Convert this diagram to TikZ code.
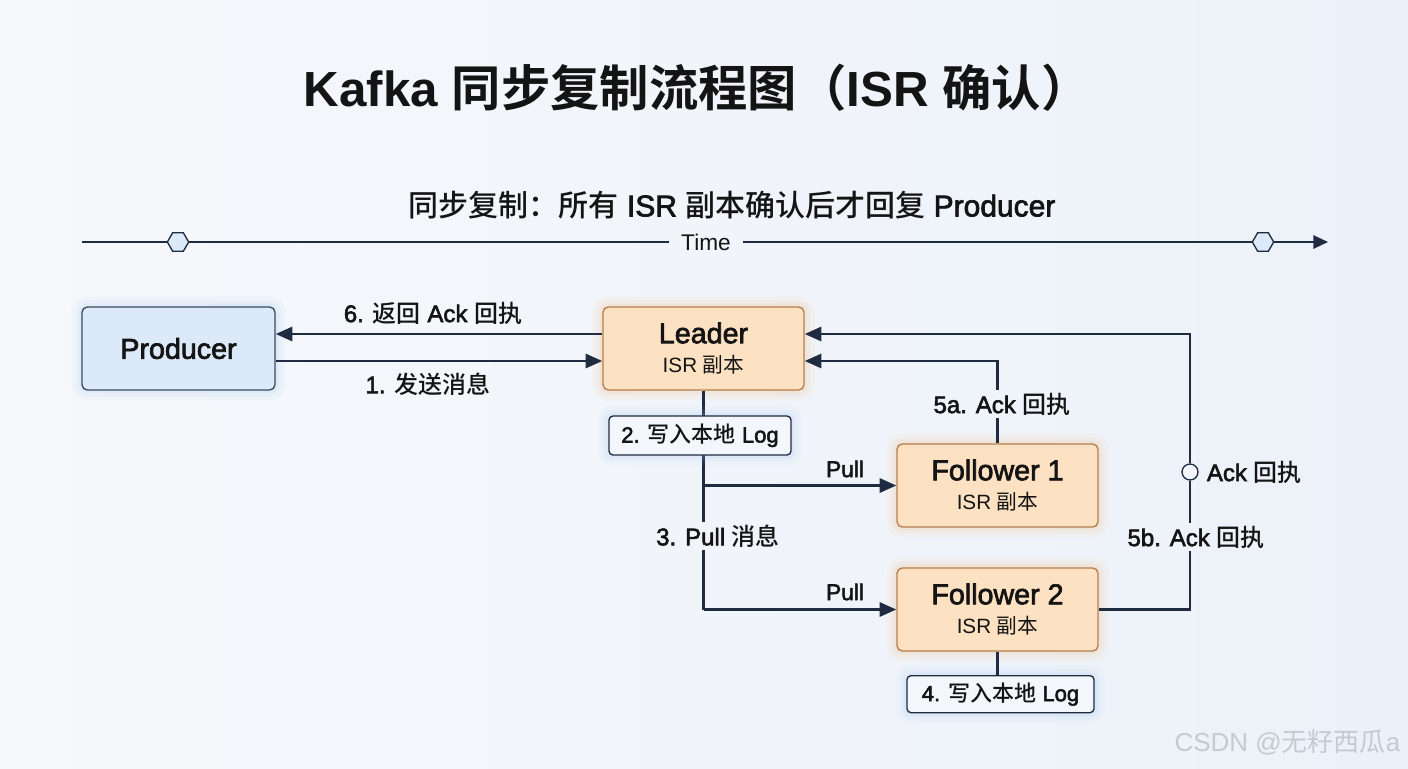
\documentclass[tikz,border=0pt]{standalone}
\usepackage{fontspec}
\setmainfont{Liberation Sans}
\newfontfamily\medf{Liberation Sans}[FakeBold=2.4]
\newfontfamily\zh{Noto Sans CJK SC}[BoldFont={Noto Sans CJK SC Bold}]
\newfontfamily\zhm{Noto Sans CJK SC Medium}
\usetikzlibrary{arrows.meta,shapes.geometric}
\definecolor{bgL}{HTML}{F6F8FB}
\definecolor{bgR}{HTML}{ECF1F9}
\definecolor{ink}{HTML}{1E2B40}
\definecolor{txt}{HTML}{141414}
\definecolor{blueF}{HTML}{DCE9F8}
\definecolor{blueD}{HTML}{3A4A5E}
\definecolor{blueG}{HTML}{9CC3F0}
\definecolor{peach}{HTML}{FCE1C2}
\definecolor{peachD}{HTML}{B47E4E}
\definecolor{peachG}{HTML}{F5B070}
\definecolor{logF}{HTML}{F3F7FC}
\definecolor{wm}{HTML}{C5CAD1}
\tikzset{
  line/.style={draw=ink, line width=2.2pt},
  arr/.style={line, -{Triangle[length=12.5pt,width=10.5pt]}},
  glow/.style={
    preaction={draw=#1, draw opacity=0.06, line width=16pt},
    preaction={draw=#1, draw opacity=0.08, line width=10pt},
    preaction={draw=#1, draw opacity=0.10, line width=5pt}},
  box/.style={rounded corners=4pt, line width=1pt, minimum width=150.75pt, minimum height=62.25pt, align=center, inner sep=0pt, text=txt},
  bluebox/.style={box, fill=blueF, draw=blueD, minimum width=144.75pt, glow=blueG},
  orangebox/.style={box, fill=peach, draw=peachD, glow=peachG},
  logbox/.style={rounded corners=3pt, line width=1pt, fill=logF, draw=ink, minimum width=136.5pt, minimum height=29.25pt, inner sep=0pt, text=txt, font=\fontsize{16.5}{19}\selectfont\medf, glow=blueG},
  elabel/.style={inner sep=2pt, text=txt, font=\fontsize{18}{21}\selectfont\medf},
  plabel/.style={inner sep=2pt, text=txt, font=\fontsize{17}{20}\selectfont\medf},
  hexa/.style={regular polygon, regular polygon sides=6, minimum size=16pt, inner sep=0pt, fill=blueF, draw=ink, line width=1pt},
  dot/.style={circle, minimum size=12pt, inner sep=0pt, fill=logF, draw=ink, line width=1pt},
}
\newcommand{\boxtext}[1]{{\fontsize{21.5}{24}\selectfont\medf #1}\\[8pt]{\fontsize{15.5}{18}\selectfont ISR {\zh 副本}}}
\begin{document}
\begin{tikzpicture}[x=0.75pt,y=-0.75pt]
\fill[left color=bgL, right color=bgR] (0,0) rectangle (1408,768);
\useasboundingbox (0,0) rectangle (1408,768);

% titles
\node[text=txt, font=\fontsize{37}{44}\selectfont\bfseries] (title) at (697,88) {Kafka {\zh 同步复制流程图（}ISR {\zh 确认）}};
\node[text=txt, font=\fontsize{22.5}{27}\selectfont\medf] (sub) at (732,205) {{\zhm 同步复制：所有} ISR {\zhm 副本确认后才回复} Producer};

% timeline
\coordinate (ts) at (82,242);
\coordinate (te) at (1328,242);
\node[plabel, inner sep=9pt, font=\fontsize{17}{20}\selectfont] (time) at (706,242) {Time};
\draw[ink, line width=1.5pt] (ts) -- (time.west);
\draw[ink, line width=1.5pt, -{Triangle[length=11pt,width=10pt]}] (time.east) -- (te);
\node[hexa] (h1) at (178,242) {};
\node[hexa] (h2) at (1263,242) {};

% boxes
\node[bluebox] (P) at (178.5,348.5) {\fontsize{21.5}{24}\selectfont\medf Producer};
\node[orangebox] (L) at (703.5,348.5) {\boxtext{Leader}};
\node[orangebox] (F1) at (997.5,485.5) {\boxtext{Follower 1}};
\node[orangebox] (F2) at (997.5,609.5) {\boxtext{Follower 2}};

% helper coordinates
\coordinate (y334) at (0,334);
\coordinate (y361) at (0,361);
\coordinate (rx) at (1190,0);

% labels
\node[elabel] (l6) at (433,313) {6. {\zhm 返回} Ack {\zhm 回执}};
\node[elabel] (l1) at (428,384) {1. {\zhm 发送消息}};
\node[elabel] (l3) at (718,536) {3. Pull {\zhm 消息}};
\node[plabel] (pull1) at (845,469) {Pull};
\node[plabel] (pull2) at (845,592) {Pull};
\node[elabel] (l5a) at (1002,404) {5a. Ack {\zhm 回执}};
\node[elabel] (l5b) at (1196,537) {5b. Ack {\zhm 回执}};
\node[dot] (ack) at (1190,472) {};
\node[elabel, anchor=west] (ackl) at (1204,472) {Ack {\zhm 回执}};

% producer <-> leader
\draw[arr] (L.west |- y334) -- (P.east |- y334);
\draw[arr] (P.east |- y361) -- (L.west |- y361);

% leader down to followers
\coordinate (j1) at (L.south |- F1.west);
\coordinate (j2) at (L.south |- F2.west);
\draw[line] (L.south) -- (L.south |- l3.north);
\draw[line] (L.south |- l3.south) -- (j2);
\draw[arr] (j1) -- (F1.west);
\draw[arr] (j2) -- (F2.west);

% 5a
\draw[line] (F1.north) -- (F1.north |- l5a.south);
\draw[arr] (F1.north |- l5a.north) -- (F1.north |- y361) -- (L.east |- y361);

% 5b
\draw[line] (F2.east) -- (F2.east -| rx) -- (rx |- l5b.south);
\draw[line] (rx |- l5b.north) -- (ack.south);
\draw[arr] (ack.north) -- (rx |- y334) -- (L.east |- y334);

% log boxes
\node[logbox] (log1) at (700,435.5) {2. {\zhm 写入本地} Log};
\node[logbox, minimum width=140.25pt, minimum height=27.75pt, anchor=north] (log2) at (1000.5,675) {4. {\zhm 写入本地} Log};
\draw[line] (F2.south) -- (F2.south |- log2.north);

% watermark
\node[text=wm, font=\fontsize{19.5}{22}\selectfont, anchor=east] (wmk) at (1405,742) {CSDN @{\zh 无籽西瓜}a};
\end{tikzpicture}
\end{document}
